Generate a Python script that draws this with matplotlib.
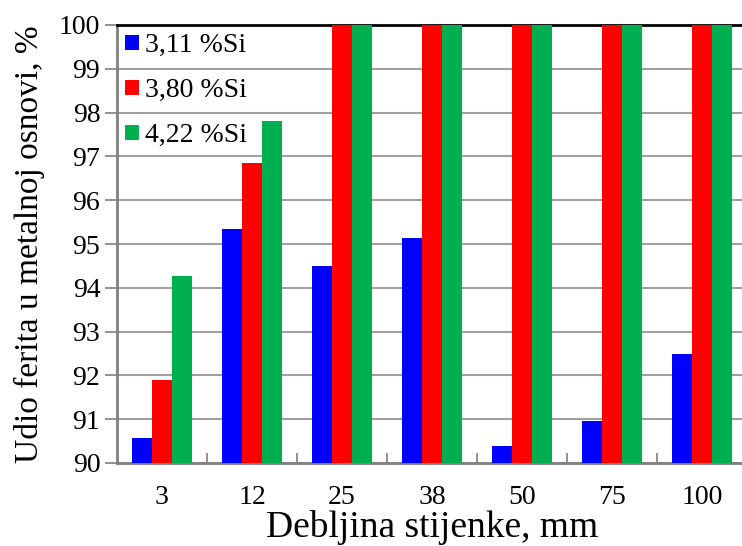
import numpy as np
import matplotlib
matplotlib.use("Agg")
import matplotlib.pyplot as plt
from matplotlib.ticker import FixedLocator

plt.rcParams['font.family'] = ['Liberation Serif', 'DejaVu Serif']

# data
categories = ["3", "12", "25", "38", "50", "75", "100"]
si_311 = [90.57, 95.34, 94.50, 95.14, 90.38, 90.97, 92.48]
si_380 = [91.90, 96.86, 100.0, 100.0, 100.0, 100.0, 100.0]
si_422 = [94.26, 97.81, 100.0, 100.0, 100.0, 100.0, 100.0]
series_labels = ["3,11 %Si", "3,80 %Si", "4,22 %Si"]
colors = ["#0000ff", "#ff0000", "#00b050"]

fig = plt.figure(figsize=(7.42, 5.46), dpi=100)
ax = fig.add_axes([117 / 742, 83 / 546, 630 / 742, 438 / 546])

x = np.arange(len(categories))
w = 0.219
for i, (vals, lab, c) in enumerate(zip([si_311, si_380, si_422], series_labels, colors)):
    ax.bar(x + (i - 1) * w, np.array(vals) - 90, bottom=90, width=w,
           color=c, label=lab, zorder=3)

ax.set_xlim(-0.5, len(categories) - 0.5)
ax.set_ylim(90, 100)
ax.set_yticks(np.arange(90, 101, 1))
ax.grid(axis='y', color='#a0a0a0', linewidth=1.5, zorder=0)
ax.set_axisbelow(True)

ax.set_xticks(x)
ax.set_xticklabels(categories)
ax.xaxis.set_minor_locator(FixedLocator(np.arange(0.5, len(categories) - 0.5, 1)))
ax.tick_params(axis='x', which='major', length=0, pad=16, labelsize=20)
ax.tick_params(axis='x', which='minor', direction='in', length=7, width=1.2, color='#808080')
ax.tick_params(axis='y', direction='out', length=9, width=1.2, color='#808080', pad=3, labelsize=20)

for s in ['left', 'bottom']:
    ax.spines[s].set_color('#808080')
    ax.spines[s].set_linewidth(2)
ax.spines['top'].set_color('black')
ax.spines['top'].set_linewidth(2)
ax.spines['right'].set_visible(False)

ax.set_xlabel("Debljina stijenke, mm", fontsize=27, labelpad=0)
ax.set_ylabel("Udio ferita u metalnoj osnovi, %", fontsize=24, labelpad=10)

ax.legend(loc='upper left', frameon=False, fontsize=20, handlelength=0.5, handleheight=0.5,
          handletextpad=0.22, labelspacing=0.72, borderpad=0.2, borderaxespad=0.1,
          bbox_to_anchor=(0.0, 1.0))

fig.savefig("out.png", dpi=100)
